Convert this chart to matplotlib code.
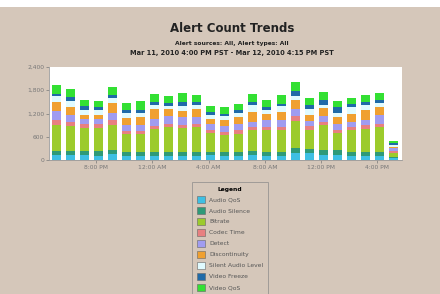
import matplotlib
matplotlib.use("Agg")
import matplotlib.pyplot as plt
from matplotlib.patches import Patch, Rectangle
import numpy as np

series_names = ["Audio QoS", "Audio Silence", "Bitrate", "Codec Time", "Detect",
                "Discontinuity", "Silent Audio Level", "Video Freeze", "Video QoS"]
series_colors = ["#3ebfe3", "#2e9a78", "#9ccb2c", "#e88080", "#a09cf0",
                 "#f0a030", "#e0fbff", "#1f6aa8", "#33e033"]

audio_qos = [130, 130, 135, 110, 150, 100, 100, 100, 100, 100, 100, 130, 100, 100, 130, 100, 100, 170, 170, 130, 120, 100, 100, 100, 45]
audio_silence = [100, 90, 100, 110, 100, 100, 100, 110, 110, 110, 110, 85, 100, 110, 110, 110, 110, 145, 120, 130, 135, 110, 110, 110, 45]
bitrate = [665, 665, 600, 600, 650, 480, 480, 595, 640, 620, 640, 490, 450, 470, 530, 555, 555, 680, 490, 640, 440, 555, 600, 640, 85]
codec_time = [130, 100, 85, 100, 120, 60, 60, 85, 85, 85, 85, 60, 85, 85, 85, 85, 85, 130, 85, 85, 85, 85, 85, 85, 45]
detect = [230, 180, 150, 150, 195, 170, 170, 170, 190, 190, 170, 170, 145, 155, 130, 170, 170, 190, 130, 145, 155, 130, 130, 215, 85]
discontinuity = [230, 200, 100, 100, 255, 170, 195, 255, 195, 170, 215, 130, 155, 190, 255, 170, 215, 240, 170, 220, 170, 215, 255, 215, 25]
silent_audio = [155, 150, 130, 110, 130, 145, 120, 110, 85, 130, 110, 100, 100, 100, 170, 110, 155, 100, 155, 60, 120, 170, 145, 100, 60]
video_freeze = [75, 110, 85, 75, 85, 70, 70, 60, 60, 85, 60, 70, 50, 70, 85, 60, 60, 135, 100, 130, 135, 70, 70, 85, 45]
video_qos = [230, 200, 170, 180, 190, 170, 230, 215, 195, 230, 195, 170, 170, 170, 215, 195, 215, 230, 170, 210, 170, 170, 190, 180, 60]

x_tick_idx = [3, 7, 11, 15, 19, 23]
x_tick_labels = ["8:00 PM", "12:00 AM", "4:00 AM", "8:00 AM", "12:00 PM", "4:00 PM"]
y_ticks = [0, 600, 1200, 1800, 2400]
y_tick_labels = ["0", "600", "1,200", "1,800", "2,400"]

all_series = [audio_qos, audio_silence, bitrate, codec_time, detect,
              discontinuity, silent_audio, video_freeze, video_qos]

bg = "#d5c7ba"
fig = plt.figure(figsize=(4.4, 2.94), dpi=100, facecolor=bg)

# white strip along the top edge
fig.patches.append(Rectangle((0, 1 - 7 / 294), 1, 7 / 294, transform=fig.transFigure,
                             facecolor="white", edgecolor="none", zorder=0))

ax = fig.add_axes([49 / 440, 1 - 160 / 294, 353 / 440, 93 / 294], facecolor="white")

x = np.arange(len(audio_qos))
bottom = np.zeros(len(x))
for vals, color in zip(all_series, series_colors):
    ax.bar(x, vals, width=0.64, bottom=bottom, color=color, edgecolor="none")
    bottom += np.array(vals)

ax.set_xlim(-0.5, 24.6)
ax.set_ylim(0, 2400)
ax.set_xticks(np.array(x_tick_idx) - 0.15)
ax.set_xticklabels(x_tick_labels)
ax.set_yticks(y_ticks)
ax.set_yticklabels(y_tick_labels)
ax.tick_params(labelsize=4.3, colors="#777777", length=2, width=0.5, pad=1.5)
for side in ["top", "right"]:
    ax.spines[side].set_visible(False)
for side in ["left", "bottom"]:
    ax.spines[side].set_color("#999999")
    ax.spines[side].set_linewidth(0.6)

fig.text(0.527, 1 - 28 / 294, "Alert Count Trends", ha="center", va="center",
         fontsize=8.5, fontweight="bold", color="#222222")
fig.text(0.527, 1 - 43 / 294, "Alert sources: All, Alert types: All", ha="center",
         va="center", fontsize=4.3, fontweight="bold", color="#222222")
fig.text(0.527, 1 - 53 / 294, "Mar 11, 2010 4:00 PM PST - Mar 12, 2010 4:15 PM PST",
         ha="center", va="center", fontsize=4.8, fontweight="bold", color="#222222")

handles = [Patch(facecolor=c, edgecolor="#666666", linewidth=0.4) for c in series_colors]
leg = fig.legend(handles, series_names, loc="upper left",
                 bbox_to_anchor=(192 / 440, 1 - 182 / 294), title="Legend",
                 fontsize=4.3, title_fontproperties={"size": 4.3, "weight": "bold"},
                 frameon=True, fancybox=False, facecolor=bg, edgecolor="#888888",
                 handlelength=1.3, handleheight=1.3, handletextpad=0.8,
                 labelspacing=0.75, borderpad=0.8, borderaxespad=0)
leg.get_frame().set_linewidth(0.6)
for t in leg.get_texts():
    t.set_color("#555555")

fig.savefig("out.png", dpi=100, facecolor=bg)
